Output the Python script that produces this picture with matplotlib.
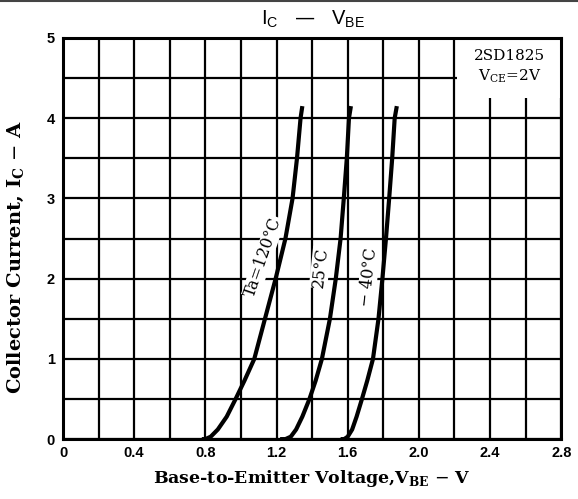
import matplotlib
matplotlib.use("Agg")
import matplotlib.pyplot as plt
from matplotlib.lines import Line2D
from matplotlib.patches import Rectangle

# I_C - V_BE curves of 2SD1825 at three ambient temperatures
CURRENT = [0.0, 0.0, 0.03, 0.12, 0.28, 0.5, 0.73, 1.0, 1.5, 2.0, 2.5, 3.0, 3.5, 4.0, 4.15]
VBE_120 = [0.78, 0.80, 0.83, 0.87, 0.92, 0.97, 1.02, 1.075, 1.135, 1.195, 1.25, 1.29, 1.315, 1.335, 1.345]
VBE_25 = [1.22, 1.25, 1.28, 1.31, 1.345, 1.385, 1.42, 1.455, 1.50, 1.533, 1.56, 1.578, 1.595, 1.607, 1.618]
VBE_M40 = [1.56, 1.58, 1.60, 1.625, 1.65, 1.68, 1.71, 1.742, 1.773, 1.795, 1.815, 1.833, 1.85, 1.864, 1.876]

X_TICKS = [0, 0.4, 0.8, 1.2, 1.6, 2.0, 2.4, 2.8]
X_TICKLABELS = ["0", "0.4", "0.8", "1.2", "1.6", "2.0", "2.4", "2.8"]
Y_TICKS = [0, 1, 2, 3, 4, 5]

SERIF = ["DejaVu Serif"]
SANS = ["Liberation Sans", "DejaVu Sans"]

fig = plt.figure(figsize=(5.78, 4.99), dpi=100)
ax = fig.add_axes([0.109, 0.120, 0.862, 0.804])

ax.set_xlim(0, 2.8)
ax.set_ylim(0, 5)
ax.set_xticks(X_TICKS)
ax.set_xticklabels(X_TICKLABELS)
ax.set_xticks([i * 0.2 for i in range(15)], minor=True)
ax.set_yticks(Y_TICKS)
ax.set_yticks([i * 0.5 for i in range(11)], minor=True)
ax.tick_params(which="both", length=0)
ax.tick_params(axis="x", pad=5)
ax.tick_params(axis="y", pad=6)
for lab in ax.get_xticklabels() + ax.get_yticklabels():
    lab.set_family(SANS)
    lab.set_fontweight("bold")
    lab.set_fontsize(10.5)

ax.set_axisbelow(True)
ax.grid(which="both", color="black", lw=1.6)
for sp in ax.spines.values():
    sp.set_linewidth(2.2)
    sp.set_zorder(5)

# white box for the device note
ax.add_patch(Rectangle((2.215, 4.25), 0.585, 0.75, facecolor="white",
                       edgecolor="none", zorder=1))
ax.text(2.51, 4.78, "2SD1825", family=SERIF, fontsize=11,
        ha="center", va="center", zorder=3)
ax.text(2.51, 4.52, r"V$_\mathregular{CE}$=2V", family=SERIF, fontsize=11,
        ha="center", va="center", zorder=3)

for v in (VBE_120, VBE_25, VBE_M40):
    ax.plot(v, CURRENT, color="black", lw=3.0, solid_capstyle="butt", zorder=2)

lbl = dict(family=SERIF, fontsize=11.5, ha="center", va="center", zorder=3,
           bbox=dict(facecolor="white", edgecolor="none", pad=0.5))
ax.text(1.126, 2.27, "Ta=120°C", rotation=71, **lbl)
ax.text(1.445, 2.14, "25°C", rotation=84, **lbl)
ax.text(1.716, 2.02, "− 40°C", rotation=84, **lbl)

ax.set_xlabel(r"Base-to-Emitter Voltage,V$_\mathregular{BE}$ $-$ V",
              family=SERIF, fontweight="bold", fontsize=12.5, labelpad=6)
ax.set_ylabel(r"Collector Current, I$_\mathregular{C}$ $-$ A",
              family=SERIF, fontweight="bold", fontsize=14)
ax.yaxis.set_label_coords(-0.075, 0.455)

fig.text(0.541, 0.962, r"I$_\mathregular{C}$   —   V$_\mathregular{BE}$",
         family=SANS, fontsize=14.5, ha="center", va="center")
fig.add_artist(Line2D([0, 1], [0.997, 0.997], color="#444444", lw=1.5))

fig.savefig("out.png", dpi=100)
